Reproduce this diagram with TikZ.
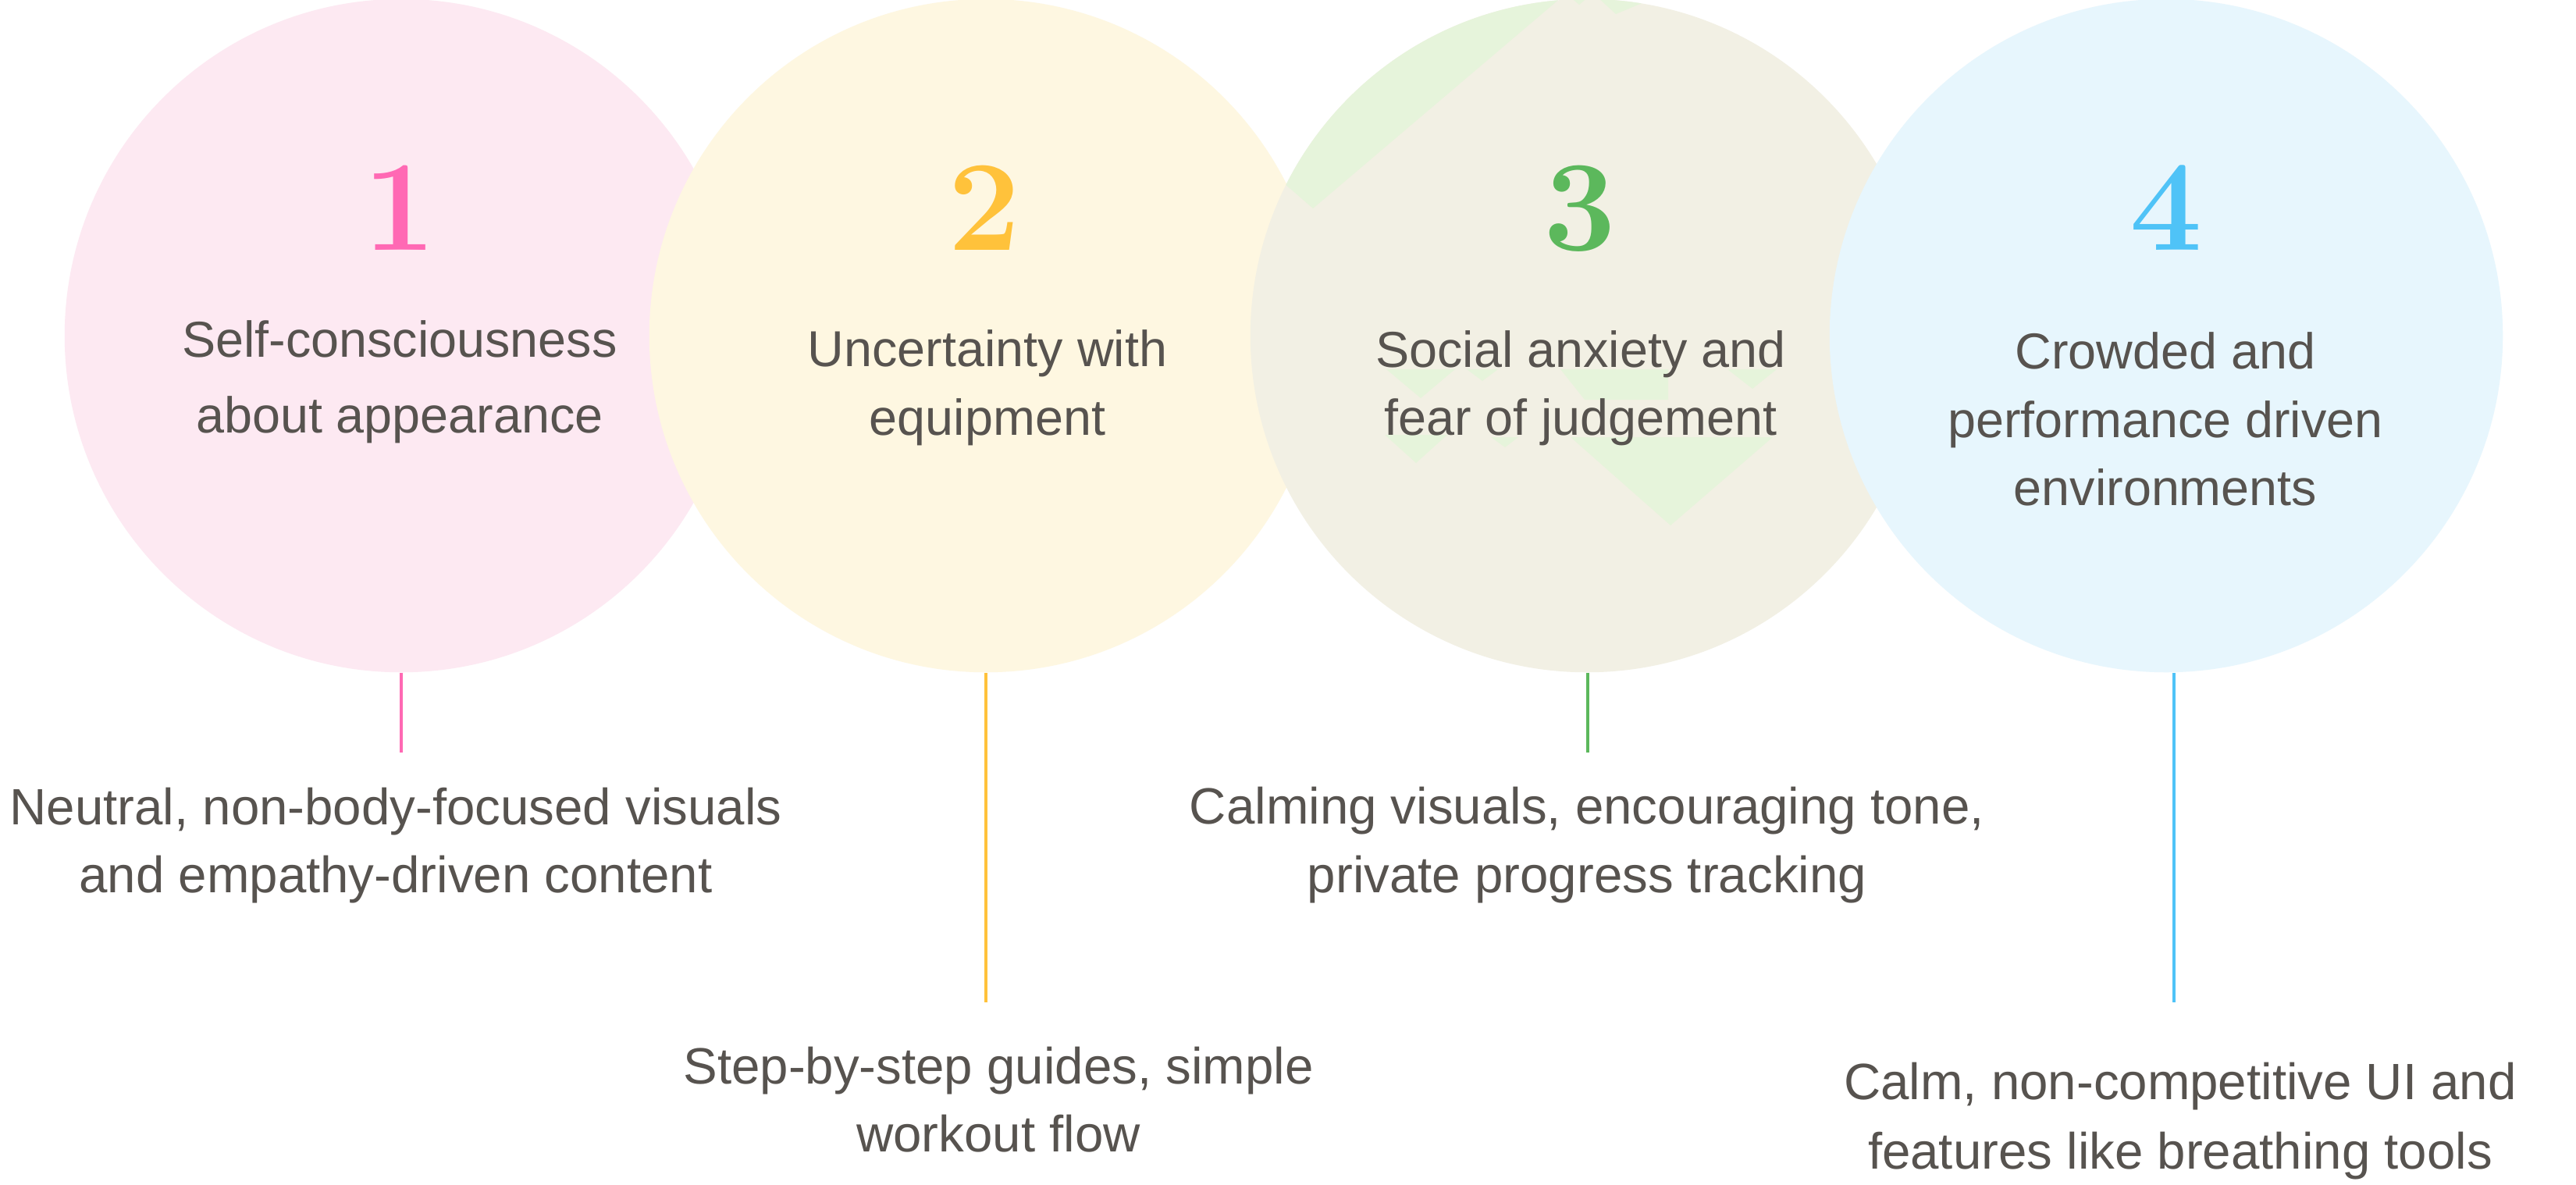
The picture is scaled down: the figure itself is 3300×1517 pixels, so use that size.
\documentclass[tikz,border=0pt]{standalone}
\usepackage{fontspec}
\setsansfont{Liberation Sans}
\definecolor{pinkbg}{HTML}{FDE9F2}
\definecolor{creambg}{HTML}{FEF7E1}
\definecolor{beigebg}{HTML}{F2F0E4}
\definecolor{bluebg}{HTML}{E7F6FD}
\definecolor{greenpat}{HTML}{E6F4DB}
\definecolor{pinkfg}{HTML}{FF69B4}
\definecolor{amberfg}{HTML}{FFC23B}
\definecolor{greenfg}{HTML}{5CB85C}
\definecolor{bluefg}{HTML}{4FC3F7}
\definecolor{textc}{HTML}{57534F}
\tikzset{
  bubble/.style={circle, inner sep=0pt, minimum size=8.62cm},
  num/.style={anchor=base, inner sep=0pt, font=\rmfamily\fontsize{47}{47}\selectfont\bfseries},
  lbl/.style={anchor=base, inner sep=0pt, text=textc, font=\sffamily\fontsize{18.4}{22}\selectfont},
  sub/.style={anchor=base, inner sep=0pt, text=textc, font=\sffamily\fontsize{18.6}{22}\selectfont},
  stem/.style={line width=0.9pt}
}
\begin{document}
\begin{tikzpicture}[x=0.01cm, y=-0.01cm]
\useasboundingbox (0,0) rectangle (3300,1517);
\fill[white] (0,0) rectangle (3300,1517);

% circles
\node[bubble, fill=pinkbg] (c1) at (514,430) {};
\node[bubble, fill=creambg] (c2) at (1263,430) {};
\node[bubble, fill=beigebg] (c3) at (2033,430) {};
\begin{scope}
  \clip (c3.center) circle [radius=4.31cm];
  \fill[greenpat] (1560,161) -- (1682,267) -- (2008,-10) -- (1560,-10) -- cycle;
  \fill[greenpat] (2010,-5) -- (2023,6) -- (2036,-5) -- cycle;
  \fill[greenpat] (2045,-5) -- (2070,18) -- (2125,-5) -- cycle;
  \fill[greenpat] (1776,473) -- (1820,510) -- (1864,473) -- cycle;
  \fill[greenpat] (1879,473) -- (1899,488) -- (1919,473) -- cycle;
  \fill[greenpat] (1999,473) -- (2137,473) -- (2137,512) -- (2030,512) -- cycle;
  \fill[greenpat] (2213,473) -- (2245,498) -- (2276,473) -- cycle;
  \fill[greenpat] (1774,557) -- (1814,593) -- (1854,557) -- cycle;
  \fill[greenpat] (1910,560) -- (1928,573) -- (1945,560) -- cycle;
  \fill[greenpat] (2012,560) -- (2140,673) -- (2271,560) -- cycle;
\end{scope}
\node[bubble, fill=bluebg] (c4) at (2775,430) {};

% numbers
\node[num, text=pinkfg] (n1) at (512,320) {1};
\node[num, text=amberfg] (n2) at (1261,320) {2};
\node[num, text=greenfg] (n3) at (2024,320) {3};
\node[num, text=bluefg] (n4) at (2775,320) {4};

% circle texts
\node[lbl] (t1a) at (512,457) {Self-consciousness};
\node[lbl] (t1b) at (512,554) {about appearance};
\node[lbl] (t2a) at (1265,469) {Uncertainty with};
\node[lbl] (t2b) at (1265,557) {equipment};
\node[lbl] (t3a) at (2025,470) {Social anxiety and};
\node[lbl] (t3b) at (2025,557) {fear of judgement};
\node[lbl] (t4a) at (2774,472) {Crowded and};
\node[lbl] (t4b) at (2774,560) {performance driven};
\node[lbl] (t4c) at (2774,647) {environments};

% stems
\coordinate (e1) at (514,964);
\coordinate (e2) at (1263,1284);
\coordinate (e3) at (2034,964);
\coordinate (e4) at (2785,1284);
\draw[stem, pinkfg] (c1.south -| e1) -- (e1);
\draw[stem, amberfg] (c2.south -| e2) -- (e2);
\draw[stem, greenfg] (c3.south -| e3) -- (e3);
\draw[stem, bluefg] (c4.south -| e4) -- (e4);

% bottom texts
\node[sub] (b1a) at (507,1056) {Neutral, non-body-focused visuals};
\node[sub] (b1b) at (507,1143) {and empathy-driven content};
\node[sub] (b2a) at (1279,1388) {Step-by-step guides, simple};
\node[sub] (b2b) at (1279,1475) {workout flow};
\node[sub] (b3a) at (2033,1055) {Calming visuals, encouraging tone,};
\node[sub] (b3b) at (2033,1143) {private progress tracking};
\node[sub] (b4a) at (2793,1408) {Calm, non-competitive UI and};
\node[sub] (b4b) at (2793,1497) {features like breathing tools};
\end{tikzpicture}
\end{document}
